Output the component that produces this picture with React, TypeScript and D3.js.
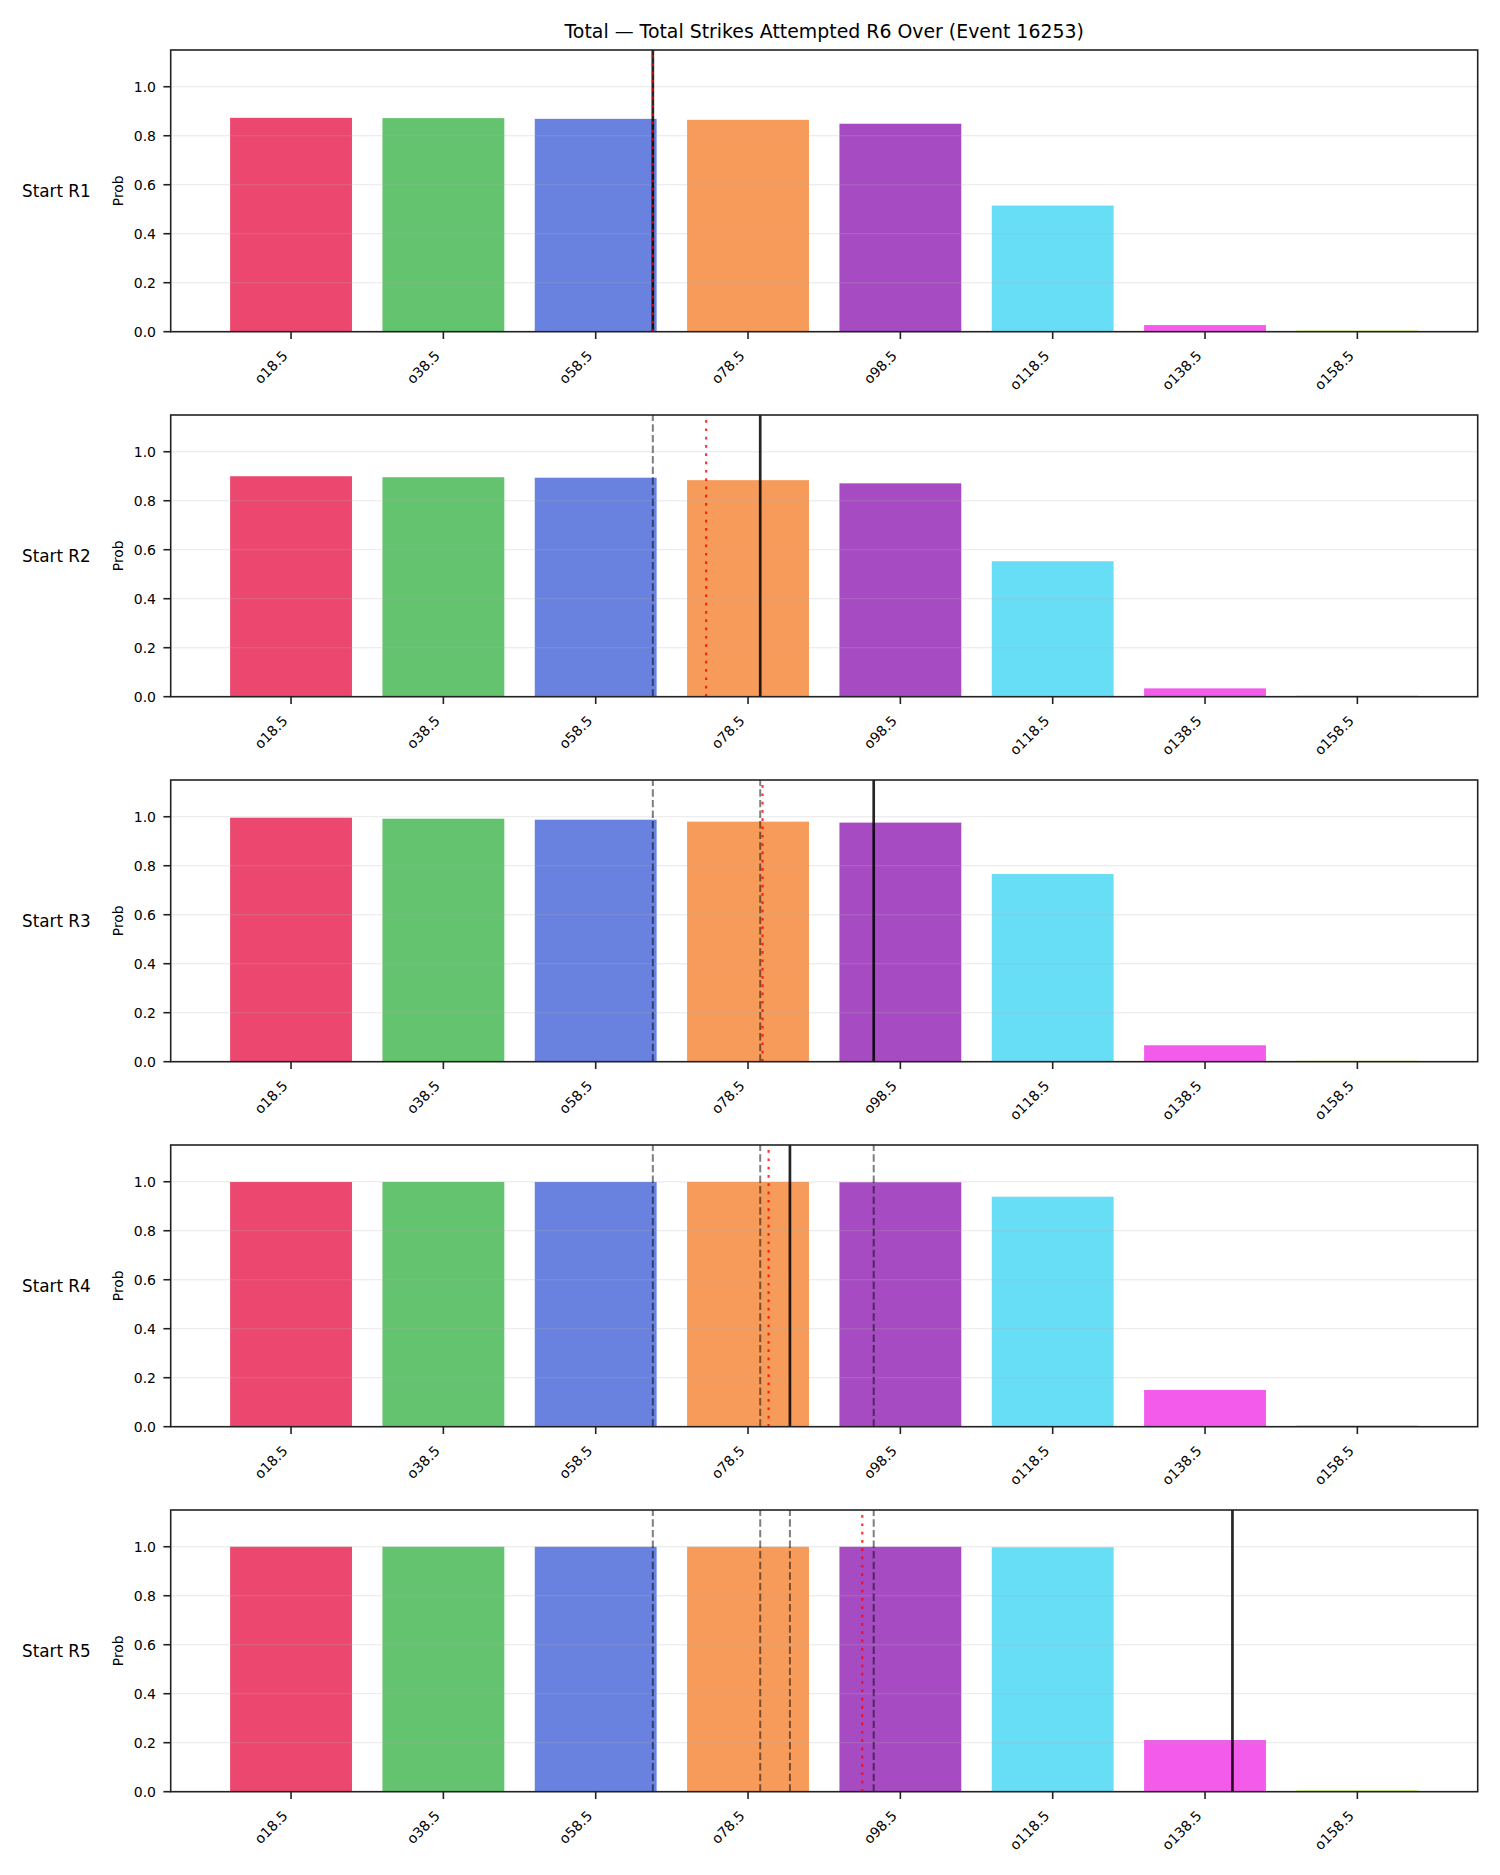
import React from 'react';
import * as d3 from 'd3';

// Over lines (strikes) and their labels
const LINES = [18.5, 38.5, 58.5, 78.5, 98.5, 118.5, 138.5, 158.5];
const LINE_LABELS = ['o18.5', 'o38.5', 'o58.5', 'o78.5', 'o98.5', 'o118.5', 'o138.5', 'o158.5'];

const ROUNDS = ['Start R1', 'Start R2', 'Start R3', 'Start R4', 'Start R5'];

// P(over) for each line, one array per starting round
const PROB_R1 = [0.873, 0.872, 0.869, 0.865, 0.849, 0.515, 0.027, 0.005];
const PROB_R2 = [0.900, 0.896, 0.894, 0.884, 0.871, 0.553, 0.034, 0.005];
const PROB_R3 = [0.996, 0.992, 0.988, 0.980, 0.976, 0.766, 0.067, 0.004];
const PROB_R4 = [0.999, 0.999, 0.999, 0.999, 0.998, 0.939, 0.150, 0.006];
const PROB_R5 = [1.000, 1.000, 1.000, 1.000, 1.000, 0.998, 0.211, 0.006];
const PROBS = [PROB_R1, PROB_R2, PROB_R3, PROB_R4, PROB_R5];

// projected total at the start of each round (solid; earlier rounds dashed)
const PROJECTED = [66.0, 80.1, 95.0, 84.0, 142.1];
// reference line per round (red dotted)
const REFERENCE = [66.0, 73.0, 80.4, 81.2, 93.5];

const Y_TICKS = [0, 0.2, 0.4, 0.6, 0.8, 1.0];

const COLORS = ['#e6194b', '#3cb44b', '#4363d8', '#f58231', '#911eb4', '#42d4f4', '#f032e6', '#bfef45'];

const TITLE = 'Total \u2014 Total Strikes Attempted R6 Over (Event 16253)';

const W = 1500;
const H = 1875;
const LEFT = 170.7;
const RIGHT = 1477.7;
const TOP0 = 50;
const STEP = 365;
const PANEL_H = 281.7;
const BAR_W = 16; // 0.8 of the 20-strike spacing
const INK = '#222';

// matplotlib-style 5% margins around the bar extents
const lo = LINES[0] - BAR_W / 2;
const hi = LINES[LINES.length - 1] + BAR_W / 2;
const pad = (hi - lo) * 0.05;
const x = d3.scaleLinear().domain([lo - pad, hi + pad]).range([LEFT, RIGHT]);
const fmt = d3.format('.1f');

function Panel({ idx }: { idx: number }) {
  const top = TOP0 + idx * STEP;
  const bottom = top + PANEL_H;
  const y = d3.scaleLinear().domain([0, 1.15]).range([bottom, top]);
  const probs = PROBS[idx];
  const mid = (top + bottom) / 2;

  return (
    <g>
      {/* bars */}
      {LINES.map((v, i) => (
        <rect
          key={v}
          x={x(v - BAR_W / 2)}
          width={x(v + BAR_W / 2) - x(v - BAR_W / 2)}
          y={y(probs[i])}
          height={bottom - y(probs[i])}
          fill={COLORS[i]}
          fillOpacity={0.8}
        />
      ))}

      {/* grid */}
      {Y_TICKS.map(t => (
        <line key={t} x1={LEFT} x2={RIGHT} y1={y(t)} y2={y(t)} stroke="#b0b0b0" strokeOpacity={0.3} strokeWidth={1.1} />
      ))}

      {/* earlier projections */}
      {PROJECTED.slice(0, idx).map((v, k) => (
        <line key={k} x1={x(v)} x2={x(v)} y1={bottom} y2={top} stroke="#000" strokeOpacity={0.5}
          strokeWidth={2} strokeDasharray="7.4 3.2" />
      ))}
      <line x1={x(PROJECTED[idx])} x2={x(PROJECTED[idx])} y1={bottom} y2={top} stroke="#000" strokeOpacity={0.85} strokeWidth={2.7} />
      <line x1={x(REFERENCE[idx])} x2={x(REFERENCE[idx])} y1={bottom} y2={top} stroke="red" strokeOpacity={0.8}
        strokeWidth={2.2} strokeDasharray="2.7 5.6" />

      {/* spines */}
      <rect x={LEFT} y={top} width={RIGHT - LEFT} height={PANEL_H} fill="none" stroke={INK} strokeWidth={1.6} />

      {/* y axis */}
      {Y_TICKS.map(t => (
        <g key={t}>
          <line x1={LEFT - 7.3} x2={LEFT} y1={y(t)} y2={y(t)} stroke={INK} strokeWidth={1.6} />
          <text x={156} y={y(t)} dy="0.36em" textAnchor="end" fontSize={14} fill="#000">{fmt(t)}</text>
        </g>
      ))}
      <text transform={`translate(123,${mid}) rotate(-90)`} textAnchor="middle" fontSize={13.8} fill="#000">Prob</text>
      <text x={22} y={mid} dy="0.36em" fontSize={16.8} fill="#000">{ROUNDS[idx]}</text>

      {/* x axis */}
      {LINES.map((v, i) => (
        <g key={v}>
          <line x1={x(v)} x2={x(v)} y1={bottom} y2={bottom + 7.3} stroke={INK} strokeWidth={1.6} />
          <text transform={`translate(${x(v) - 2.5},${bottom + 25}) rotate(-45)`} textAnchor="end" fontSize={14} fill="#000">
            {LINE_LABELS[i]}
          </text>
        </g>
      ))}
    </g>
  );
}

export default function App() {
  return (
    <div>
      <style>{'body{margin:0}'}</style>
      <svg width={W} height={H} style={{ display: 'block', background: '#fff' }} fontFamily="'DejaVu Sans', sans-serif">
        <text x={(LEFT + RIGHT) / 2} y={38} textAnchor="middle" fontSize={18.9} fill="#000">{TITLE}</text>
        {ROUNDS.map((r, i) => <Panel key={r} idx={i} />)}
      </svg>
    </div>
  );
}
